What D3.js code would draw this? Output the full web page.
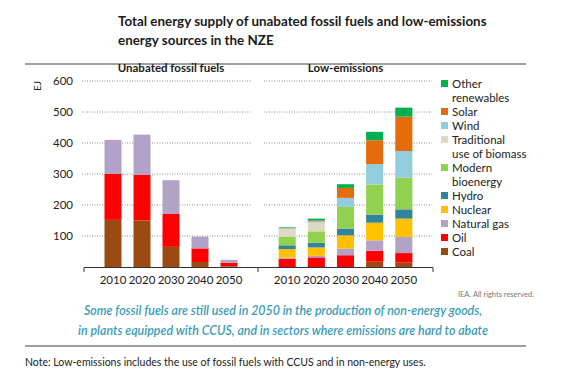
<!DOCTYPE html>
<html>
<head>
<meta charset="utf-8">
<script src="https://cdn.jsdelivr.net/npm/d3@7"></script>
<style>
  body { margin: 0; background: #fff; }
  svg { display: block; font-family: Lato, "Open Sans", sans-serif; }
</style>
</head>
<body>
<div id="chart"></div>
<script>
const years = ["2010", "2020", "2030", "2040", "2050"];

// unabated fossil fuels (EJ)
const fossilKeys = ["Coal", "Oil", "Natural gas"];
const fossilCoal = [152, 150, 65, 16, 2];
const fossilOil = [148, 147, 106, 44, 12];
const fossilGas = [110, 130, 109, 38, 9];

// low-emissions sources (EJ), bottom to top
const lowKeys = ["Coal", "Oil", "Natural gas", "Nuclear", "Hydro", "Modern bioenergy",
                 "Traditional use of biomass", "Wind", "Solar", "Other renewables"];
const lowCoal = [0, 0, 0, 17, 14];
const lowOil = [26, 31, 38, 35, 31];
const lowGas = [4, 5, 21, 34, 52];
const lowNuclear = [28, 27, 43, 57, 59];
const lowHydro = [12, 15, 22, 26, 30];
const lowModern = [28, 37, 70, 97, 102];
const lowTrad = [25, 28, 0, 0, 0];
const lowWind = [2, 4, 29, 66, 86];
const lowSolar = [1, 3, 32, 77, 111];
const lowOther = [2, 6, 12, 27, 29];

const yTicks = [100, 200, 300, 400, 500, 600];

const colors = {
  "Coal": "#9a4a12",
  "Oil": "#ff0000",
  "Natural gas": "#b3a2c7",
  "Nuclear": "#ffc000",
  "Hydro": "#31849b",
  "Modern bioenergy": "#92d050",
  "Traditional use of biomass": "#ddd9c4",
  "Wind": "#93cddd",
  "Solar": "#e46c0a",
  "Other renewables": "#00b050"
};

const legendItems = [
  ["Other renewables", ["Other", "renewables"]],
  ["Solar", ["Solar"]],
  ["Wind", ["Wind"]],
  ["Traditional use of biomass", ["Traditional", "use of biomass"]],
  ["Modern bioenergy", ["Modern", "bioenergy"]],
  ["Hydro", ["Hydro"]],
  ["Nuclear", ["Nuclear"]],
  ["Natural gas", ["Natural gas"]],
  ["Oil", ["Oil"]],
  ["Coal", ["Coal"]]
];

const fossilData = years.map((yr, i) => ({
  year: yr, "Coal": fossilCoal[i], "Oil": fossilOil[i], "Natural gas": fossilGas[i]
}));
const lowData = years.map((yr, i) => ({
  year: yr, "Coal": lowCoal[i], "Oil": lowOil[i], "Natural gas": lowGas[i],
  "Nuclear": lowNuclear[i], "Hydro": lowHydro[i], "Modern bioenergy": lowModern[i],
  "Traditional use of biomass": lowTrad[i], "Wind": lowWind[i], "Solar": lowSolar[i],
  "Other renewables": lowOther[i]
}));

const W = 567, H = 377;
const svg = d3.select("#chart").append("svg").attr("width", W).attr("height", H);

// title
const title = svg.append("text").attr("x", 118).attr("y", 26)
  .attr("font-size", 13.4).attr("font-weight", 700).attr("fill", "#1a1a1a");
title.append("tspan").attr("x", 118).text("Total energy supply of unabated fossil fuels and low-emissions");
title.append("tspan").attr("x", 118).attr("dy", 19).text("energy sources in the NZE");

svg.append("line").attr("x1", 25).attr("x2", 526).attr("y1", 64).attr("y2", 64)
  .attr("stroke", "#7f7f7f").attr("stroke-width", 1.5);

const y = d3.scaleLinear().domain([0, 600]).range([267, 81]);

const panels = [
  { name: "Unabated fossil fuels", range: [84, 258], grid: [82, 251], data: fossilData, keys: fossilKeys },
  { name: "Low-emissions", range: [258, 433], grid: [264, 432], data: lowData, keys: lowKeys }
];

// y axis labels
svg.append("g").selectAll("text").data(yTicks).join("text")
  .attr("x", 73).attr("y", d => y(d) + 4)
  .attr("text-anchor", "end").attr("font-size", 11.5).attr("fill", "#222")
  .text(d => d);

svg.append("text").attr("transform", "translate(41,86) rotate(-90)")
  .attr("text-anchor", "middle").attr("font-size", 10).attr("fill", "#222").text("EJ");

panels.forEach(p => {
  const x = d3.scaleBand().domain(years).range(p.range).paddingInner(0.414).paddingOuter(0.707);

  svg.append("g").selectAll("line").data(yTicks).join("line")
    .attr("x1", p.grid[0]).attr("x2", p.grid[1])
    .attr("y1", d => y(d)).attr("y2", d => y(d))
    .attr("stroke", "#8c8c8c").attr("stroke-width", 1).attr("stroke-dasharray", "1,1.5");

  const series = d3.stack().keys(p.keys)(p.data);
  svg.append("g").selectAll("g").data(series).join("g")
    .attr("fill", d => colors[d.key])
    .selectAll("rect").data(d => d).join("rect")
    .attr("x", d => x(d.data.year))
    .attr("width", x.bandwidth())
    .attr("y", d => y(d[1]))
    .attr("height", d => y(d[0]) - y(d[1]));

  svg.append("text").attr("x", (p.range[0] + p.range[1]) / 2).attr("y", 72)
    .attr("text-anchor", "middle").attr("font-size", 11.5).attr("font-weight", 700)
    .attr("fill", "#1a1a1a").text(p.name);

  const axis = svg.append("g").attr("transform", "translate(0,267)")
    .call(d3.axisBottom(x).tickSize(0).tickPadding(9));
  axis.select(".domain").remove();
  axis.selectAll("text").attr("font-size", 11.5).attr("fill", "#1a1a1a")
    .attr("font-family", "Lato, sans-serif");
});

// baseline with end ticks
svg.append("line").attr("x1", 84).attr("x2", 433).attr("y1", 267.5).attr("y2", 267.5)
  .attr("stroke", "#333").attr("stroke-width", 1);
svg.append("g").selectAll("line").data([84, 258, 433]).join("line")
  .attr("x1", d => d).attr("x2", d => d).attr("y1", 267.5).attr("y2", 272)
  .attr("stroke", "#333").attr("stroke-width", 1);

// legend
const legend = svg.append("g");
let ly = 84;
legendItems.forEach(([key, lines]) => {
  legend.append("rect").attr("x", 441).attr("y", ly - 4).attr("width", 7).attr("height", 7)
    .attr("fill", colors[key]);
  lines.forEach((t, j) => {
    legend.append("text").attr("x", 452).attr("y", ly + 4 + j * 14)
      .attr("font-size", 11.5).attr("fill", "#222").text(t);
  });
  ly += 14 * lines.length;
});

svg.append("text").attr("x", 534).attr("y", 297).attr("text-anchor", "end")
  .attr("font-size", 7.5).attr("fill", "#777").text("IEA. All rights reserved.");

const note = svg.append("text").attr("text-anchor", "middle").attr("font-size", 12.4)
  .attr("font-style", "italic").attr("font-weight", 600).attr("fill", "#3a9db5");
note.append("tspan").attr("x", 283).attr("y", 315)
  .text("Some fossil fuels are still used in 2050 in the production of non-energy goods,");
note.append("tspan").attr("x", 283).attr("y", 335)
  .text("in plants equipped with CCUS, and in sectors where emissions are hard to abate");

svg.append("line").attr("x1", 25).attr("x2", 526).attr("y1", 346).attr("y2", 346)
  .attr("stroke", "#7f7f7f").attr("stroke-width", 1.5);

svg.append("text").attr("x", 25).attr("y", 366).attr("font-size", 10.5).attr("fill", "#222")
  .text("Note: Low-emissions includes the use of fossil fuels with CCUS and in non-energy uses.");
</script>
</body>
</html>
